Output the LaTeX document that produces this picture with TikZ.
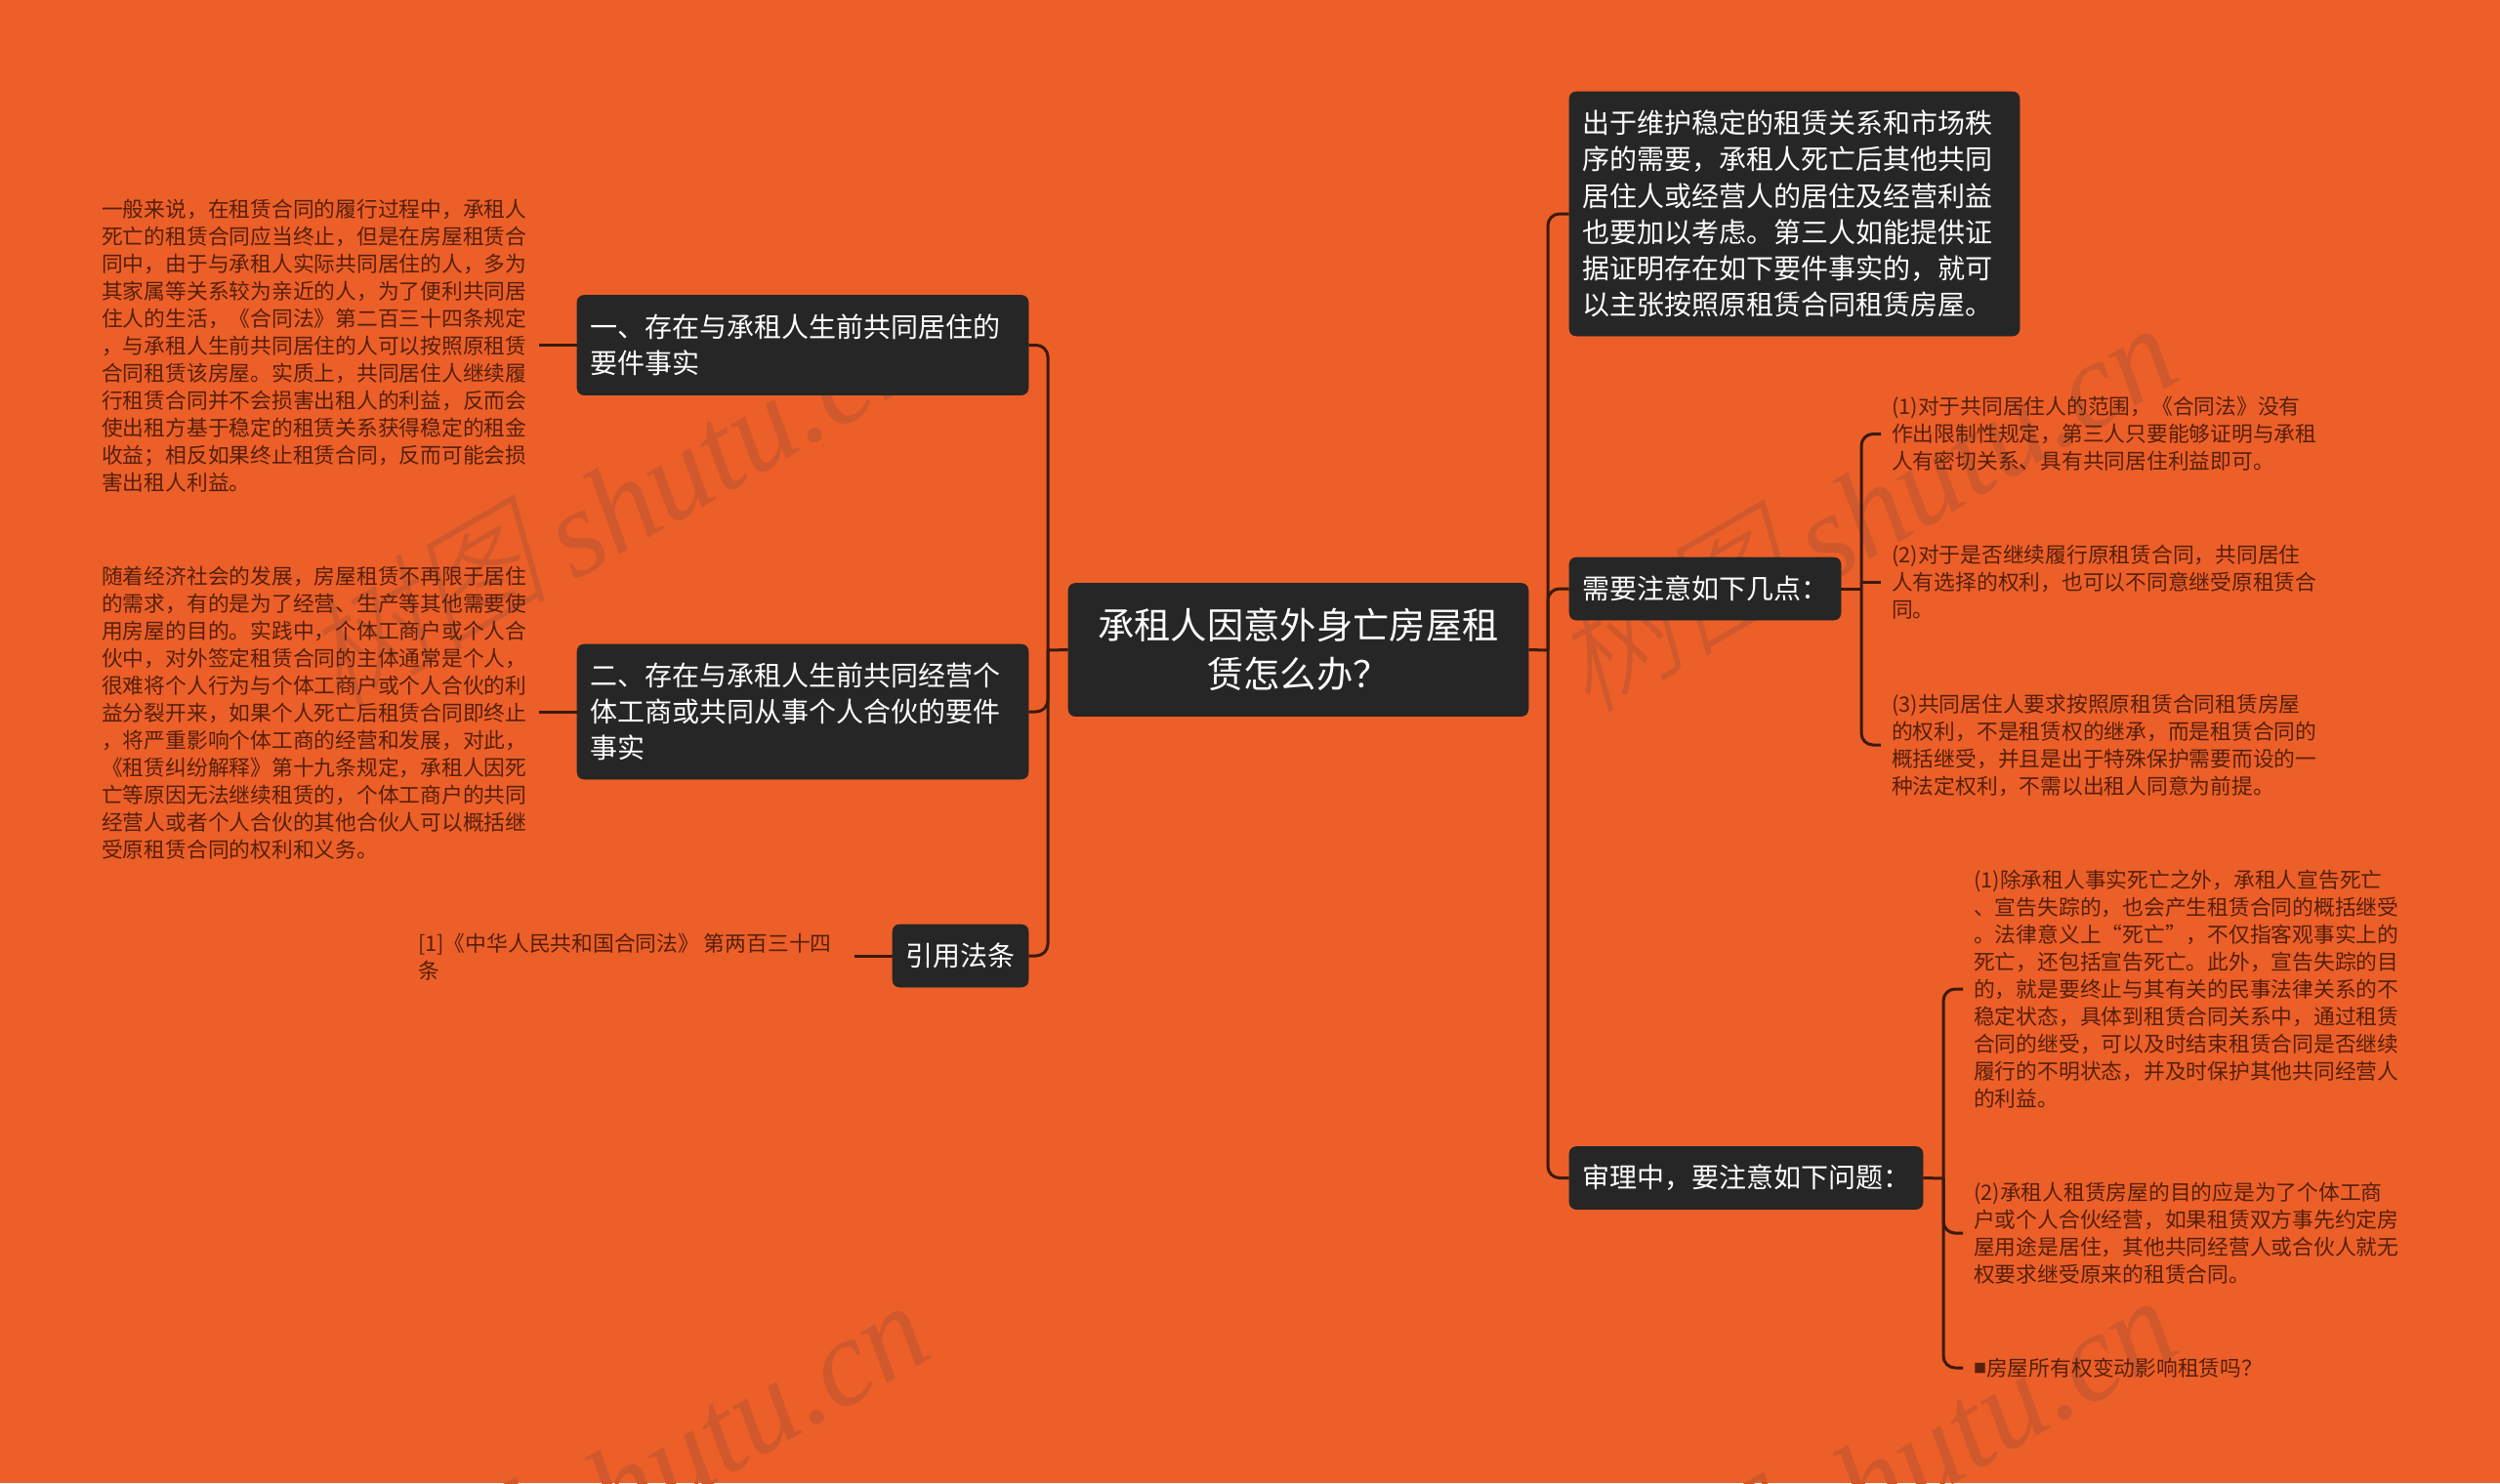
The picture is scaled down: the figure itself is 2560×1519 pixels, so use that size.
\documentclass[tikz,border=0pt]{standalone}
\usepackage{fontspec}
\setmainfont{Noto Sans CJK SC}
\newfontfamily\wmlatin{Liberation Serif}[Scale=1]
\newfontfamily\wmcjk{Noto Sans CJK SC Light}[FakeSlant=0.25]
\definecolor{bgor}{HTML}{ED5F28}
\definecolor{boxc}{HTML}{262626}
\definecolor{linec}{HTML}{3A1A0C}
\definecolor{txtc}{HTML}{55200C}
\definecolor{wmc}{HTML}{CF592C}
\newcommand{\edgeS}{\vrule width 0pt height 0.88em depth 0.12em\relax}
\newcommand{\wmtext}{\smash{\raisebox{7pt}{\wmcjk 树图}}\hspace{22pt}{\wmlatin shutu.cn}}
\tikzset{
  x=1pt,y=-1pt,
  dark/.style={fill=boxc,draw=boxc,line width=0.6pt,rounded corners=7pt,text=white,inner xsep=13pt,inner ysep=0pt,anchor=center},
  subt/.style={dark,font=\fontsize{28}{37.2}\selectfont,align=left},
  roott/.style={dark,font=\fontsize{37.3}{50}\selectfont,align=center},
  det/.style={text=txtc,anchor=west,inner sep=0pt,align=left,font=\fontsize{21.76}{28}\selectfont},
  link/.style={draw=linec,line width=3pt,rounded corners=12pt},
  stub/.style={draw=linec,line width=3pt},
  wm/.style={text=wmc,anchor=base east,inner sep=0pt,rotate=30,font=\fontsize{127}{127}\selectfont\itshape}
}
\begin{document}
\begin{tikzpicture}
\useasboundingbox (0,0) rectangle (2560,1519);
\fill[bgor] (0,0) rectangle (2560,1519);
\begin{scope}
\clip (0,0) rectangle (2560,1519);
\node[wm] (w1) at (958,382) {\wmtext};
\node[wm] (w2) at (2238,387) {\wmtext};
\node[wm] (w3) at (960,1388) {\wmtext};
\node[wm] (w4) at (2238,1383) {\wmtext};
\end{scope}
% central and branch nodes
\node[roott,text width=445pt,minimum height=136pt] (root) at (1329.5,665.5) {\edgeS 承租人因意外身亡房屋租\\赁怎么办？\edgeS};
\node[subt,text width=436pt,minimum height=102pt] (n1) at (822,353.5) {\edgeS 一、存在与承租人生前共同居住的\\要件事实\edgeS};
\node[subt,text width=436pt,minimum height=138pt] (n2) at (822,729) {\edgeS 二、存在与承租人生前共同经营个\\体工商或共同从事个人合伙的要件\\事实\edgeS};
\node[subt,text width=113pt,minimum height=64pt] (n3) at (983.5,979) {引用法条};
\node[subt,text width=435pt,minimum height=250pt] (r1) at (1837.5,219) {\edgeS 出于维护稳定的租赁关系和市场秩\\序的需要，承租人死亡后其他共同\\居住人或经营人的居住及经营利益\\也要加以考虑。第三人如能提供证\\据证明存在如下要件事实的，就可\\以主张按照原租赁合同租赁房屋。\edgeS};
\node[subt,text width=252pt,minimum height=64pt] (r2) at (1746,603) {需要注意如下几点：};
\node[subt,text width=336pt,minimum height=64pt] (r3) at (1788,1206.5) {审理中，要注意如下问题：};
% detail texts
\node[det] (t1) at (104,354.6) {\edgeS 一般来说，在租赁合同的履行过程中，承租人\\死亡的租赁合同应当终止，但是在房屋租赁合\\同中，由于与承租人实际共同居住的人，多为\\其家属等关系较为亲近的人，为了便利共同居\\住人的生活，《合同法》第二百三十四条规定\\，与承租人生前共同居住的人可以按照原租赁\\合同租赁该房屋。实质上，共同居住人继续履\\行租赁合同并不会损害出租人的利益，反而会\\使出租方基于稳定的租赁关系获得稳定的租金\\收益；相反如果终止租赁合同，反而可能会损\\害出租人利益。\edgeS};
\node[det] (t2) at (104,730.2) {\edgeS 随着经济社会的发展，房屋租赁不再限于居住\\的需求，有的是为了经营、生产等其他需要使\\用房屋的目的。实践中，个体工商户或个人合\\伙中，对外签定租赁合同的主体通常是个人，\\很难将个人行为与个体工商户或个人合伙的利\\益分裂开来，如果个人死亡后租赁合同即终止\\，将严重影响个体工商的经营和发展，对此，\\《租赁纠纷解释》第十九条规定，承租人因死\\亡等原因无法继续租赁的，个体工商户的共同\\经营人或者个人合伙的其他合伙人可以概括继\\受原租赁合同的权利和义务。\edgeS};
\node[det] (t3) at (428,980) {\edgeS [1]《中华人民共和国合同法》 第两百三十四\\条\edgeS};
\node[det] (a1) at (1937,444.5) {\edgeS (1)对于共同居住人的范围，《合同法》没有\\作出限制性规定，第三人只要能够证明与承租\\人有密切关系、具有共同居住利益即可。\edgeS};
\node[det] (a2) at (1937,596.5) {\edgeS (2)对于是否继续履行原租赁合同，共同居住\\人有选择的权利，也可以不同意继受原租赁合\\同。\edgeS};
\node[det] (a3) at (1937,763) {\edgeS (3)共同居住人要求按照原租赁合同租赁房屋\\的权利，不是租赁权的继承，而是租赁合同的\\概括继受，并且是出于特殊保护需要而设的一\\种法定权利，不需以出租人同意为前提。\edgeS};
\node[det] (b1) at (2021,1013) {\edgeS (1)除承租人事实死亡之外，承租人宣告死亡\\、宣告失踪的，也会产生租赁合同的概括继受\\。法律意义上“死亡”，不仅指客观事实上的\\死亡，还包括宣告死亡。此外，宣告失踪的目\\的，就是要终止与其有关的民事法律关系的不\\稳定状态，具体到租赁合同关系中，通过租赁\\合同的继受，可以及时结束租赁合同是否继续\\履行的不明状态，并及时保护其他共同经营人\\的利益。\edgeS};
\node[det] (b2) at (2021,1263) {\edgeS (2)承租人租赁房屋的目的应是为了个体工商\\户或个人合伙经营，如果租赁双方事先约定房\\屋用途是居住，其他共同经营人或合伙人就无\\权要求继受原来的租赁合同。\edgeS};
\node[det] (b3) at (2021,1401) {\edgeS \raisebox{3pt}{\fontsize{13}{13}\selectfont ■}房屋所有权变动影响租赁吗？\edgeS};
% spines
\coordinate (sL) at (1073,666);
\coordinate (sR) at (1585,666);
\coordinate (sA) at (1906,603);
\coordinate (sB) at (1990,1207);
\draw[stub] (root.west) -- (sL);
\draw[stub] (root.east) -- (sR);
\draw[link] (n1.east) -| (sL);
\draw[link] (n2.east) -| (sL);
\draw[link] (n3.east) -| (sL);
\draw[link] (sR) |- (r1.west);
\draw[link] (sR) |- (r2.west);
\draw[link] (sR) |- (r3.west);
\draw[stub,shorten >=12pt] (n1.west) -- (n1.west -| t1.east);
\draw[stub,shorten >=12pt] (n2.west) -- (n2.west -| t2.east);
\draw[stub,shorten >=23pt] (n3.west) -- (n3.west -| t3.east);
\draw[stub] (r2.east) -- (sA);
\draw[stub] (r3.east) -- (sB);
\draw[link,shorten >=11pt] (sA) |- (a1.west);
\draw[stub,shorten >=11pt] (a2.west -| sA) -- (a2.west);
\draw[link,shorten >=11pt] (sA) |- (a3.west);
\draw[link,shorten >=11pt] (sB) |- (b1.west);
\draw[link,shorten >=11pt] (sB) |- (b2.west);
\draw[link,shorten >=11pt] (sB) |- (b3.west);
\end{tikzpicture}
\end{document}
